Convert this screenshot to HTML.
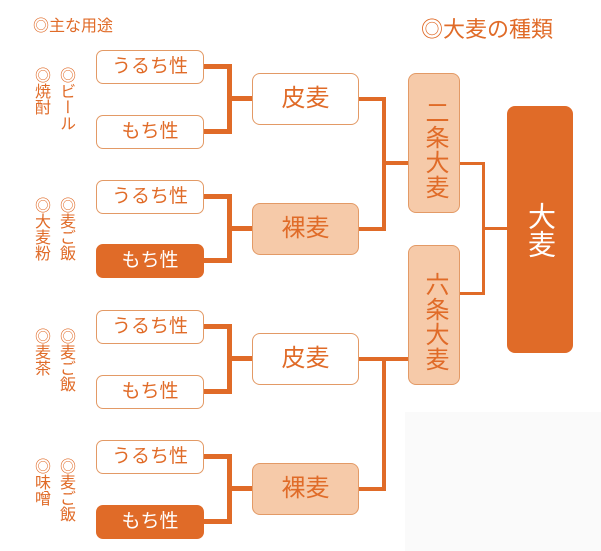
<!DOCTYPE html>
<html><head><meta charset="utf-8"><style>
body{margin:0;width:601px;height:551px;background:#fff;position:relative;overflow:hidden;font-family:"Liberation Sans","Noto Sans CJK JP",sans-serif;color:#e06b28}
div{position:absolute;box-sizing:border-box}
.s{left:96px;width:108px;height:34px;border:1.5px solid #e39a66;border-radius:7px;background:#fff;font-size:19px;text-align:center;line-height:31px}
.s.d{background:#e06b28;color:#fff;border-color:#e06b28}
.m{left:252px;width:107px;height:52px;border:1.5px solid #e39a66;border-radius:8px;background:#fff;font-size:24px;text-align:center;line-height:49px}
.m.l{background:#f6caa9}
.c{left:408px;width:52px;height:140px;border:1.5px solid #e39a66;border-radius:8px;background:#f6caa9;font-size:24px;writing-mode:vertical-rl;text-align:center;line-height:49px;letter-spacing:1px}
.h{background:#e06b28}
.v{writing-mode:vertical-rl;font-size:16px;line-height:17px;letter-spacing:0}
</style></head><body>
<div style="left:405px;top:412px;width:196px;height:139px;background:#fafafa"></div>
<div style="left:33px;top:12px;font-size:16px">◎主な用途</div>
<div style="left:421px;top:12px;font-size:22px">◎大麦の種類</div>

<div class="v" style="left:32px;top:67px">◎焼酎</div>
<div class="v" style="left:57px;top:67px">◎ビール</div>
<div class="v" style="left:32px;top:197px">◎大麦粉</div>
<div class="v" style="left:57px;top:197px">◎麦ご飯</div>
<div class="v" style="left:32px;top:328px">◎麦茶</div>
<div class="v" style="left:57px;top:328px">◎麦ご飯</div>
<div class="v" style="left:32px;top:458px">◎味噌</div>
<div class="v" style="left:57px;top:458px">◎麦ご飯</div>

<div class="h" style="left:204px;top:64px;width:28px;height:5px"></div>
<div class="h" style="left:204px;top:129px;width:28px;height:5px"></div>
<div class="h" style="left:227px;top:64px;width:5px;height:70px"></div>
<div class="h" style="left:227px;top:96px;width:26px;height:5px"></div>

<div class="h" style="left:204px;top:194px;width:28px;height:5px"></div>
<div class="h" style="left:204px;top:258px;width:28px;height:5px"></div>
<div class="h" style="left:227px;top:194px;width:5px;height:69px"></div>
<div class="h" style="left:227px;top:226px;width:26px;height:5px"></div>

<div class="h" style="left:204px;top:324px;width:28px;height:5px"></div>
<div class="h" style="left:204px;top:389px;width:28px;height:5px"></div>
<div class="h" style="left:227px;top:324px;width:5px;height:70px"></div>
<div class="h" style="left:227px;top:356px;width:26px;height:5px"></div>

<div class="h" style="left:204px;top:454px;width:28px;height:5px"></div>
<div class="h" style="left:204px;top:519px;width:28px;height:5px"></div>
<div class="h" style="left:227px;top:454px;width:5px;height:70px"></div>
<div class="h" style="left:227px;top:486px;width:26px;height:5px"></div>

<div class="h" style="left:358px;top:97px;width:28px;height:4px"></div>
<div class="h" style="left:358px;top:227px;width:28px;height:4px"></div>
<div class="h" style="left:382px;top:97px;width:4px;height:134px"></div>
<div class="h" style="left:382px;top:161px;width:27px;height:4px"></div>

<div class="h" style="left:358px;top:357px;width:50px;height:4px"></div>
<div class="h" style="left:358px;top:487px;width:28px;height:4px"></div>
<div class="h" style="left:382px;top:357px;width:4px;height:134px"></div>

<div class="h" style="left:459px;top:162px;width:26px;height:3px"></div>
<div class="h" style="left:459px;top:292px;width:26px;height:3px"></div>
<div class="h" style="left:482px;top:162px;width:3px;height:133px"></div>
<div class="h" style="left:482px;top:227px;width:26px;height:3px"></div>

<div class="s" style="top:50px">うるち性</div>
<div class="s" style="top:115px">もち性</div>
<div class="s" style="top:180px">うるち性</div>
<div class="s d" style="top:244px">もち性</div>
<div class="s" style="top:310px">うるち性</div>
<div class="s" style="top:375px">もち性</div>
<div class="s" style="top:440px">うるち性</div>
<div class="s d" style="top:505px">もち性</div>

<div class="m" style="top:73px">皮麦</div>
<div class="m l" style="top:203px">裸麦</div>
<div class="m" style="top:333px">皮麦</div>
<div class="m l" style="top:463px">裸麦</div>

<div class="c" style="top:73px;padding-top:14px">二条大麦</div>
<div class="c" style="top:245px;padding-top:14px">六条大麦</div>

<div style="left:507px;top:106px;width:66px;height:247px;background:#e06b28;border-radius:8px;color:#fff;font-size:28px;writing-mode:vertical-rl;line-height:66px;text-align:center">大麦</div>
</body></html>
